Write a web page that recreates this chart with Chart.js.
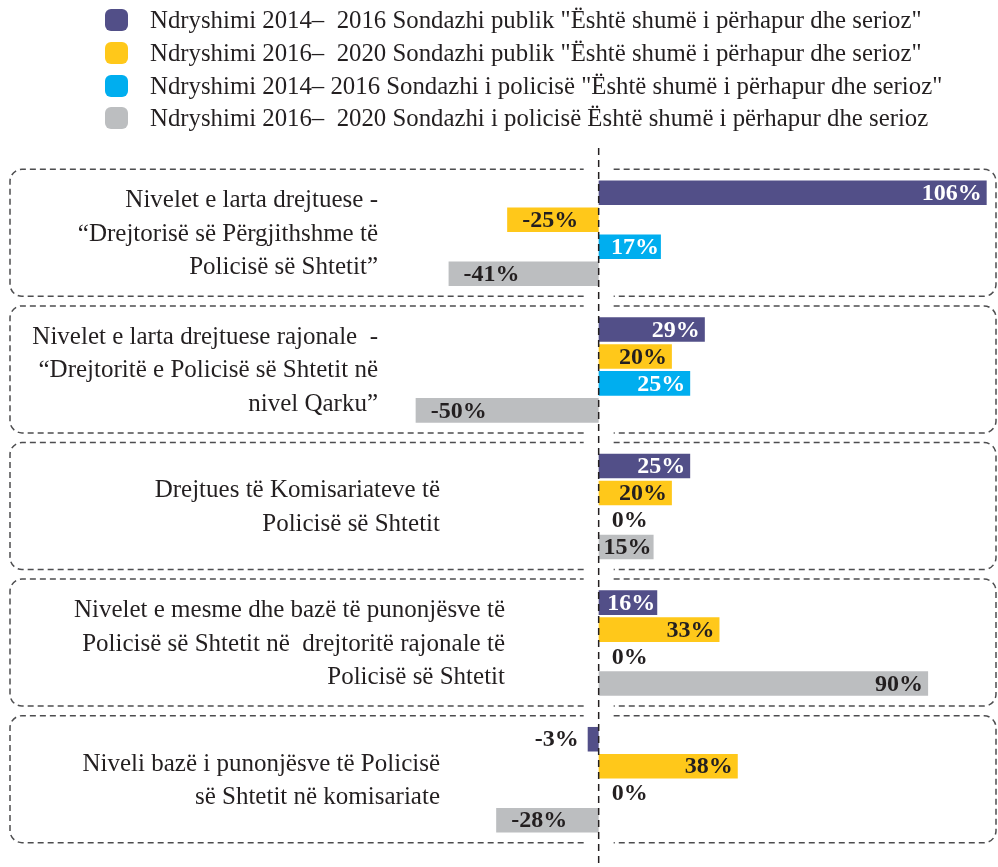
<!DOCTYPE html>
<html>
<head>
<meta charset="utf-8">
<script src="https://cdn.jsdelivr.net/npm/chart.js@4.4.1/dist/chart.umd.min.js"></script>
<style>
  html, body { margin: 0; padding: 0; background: #fff; }
  #wrap { width: 998px; height: 867px; }
</style>
</head>
<body>
<div id="wrap"><canvas id="my-chart" width="998" height="867"></canvas></div>
<script>
const categories = [
  ['Nivelet e larta drejtuese -', '“Drejtorisë së Përgjithshme të', 'Policisë së Shtetit”'],
  ['Nivelet e larta drejtuese rajonale  -', '“Drejtoritë e Policisë së Shtetit në', 'nivel Qarku”'],
  ['Drejtues të Komisariateve të', 'Policisë së Shtetit'],
  ['Nivelet e mesme dhe bazë të punonjësve të', 'Policisë së Shtetit në  drejtoritë rajonale të', 'Policisë së Shtetit'],
  ['Niveli bazë i punonjësve të Policisë', 'së Shtetit në komisariate']
];

const seriesNames = [
  'Ndryshimi 2014–  2016 Sondazhi publik "Është shumë i përhapur dhe serioz"',
  'Ndryshimi 2016–  2020 Sondazhi publik "Është shumë i përhapur dhe serioz"',
  'Ndryshimi 2014– 2016 Sondazhi i policisë "Është shumë i përhapur dhe serioz"',
  'Ndryshimi 2016–  2020 Sondazhi i policisë Është shumë i përhapur dhe serioz'
];

const publik1416 = [106, 29, 25, 16, -3];
const publik1620 = [-25, 20, 20, 33, 38];
const policia1416 = [17, 25, 0, 0, 0];
const policia1620 = [-41, -50, 15, 90, -28];

const seriesColors = ['#524f88', '#ffc81a', '#00aeef', '#bcbec0'];
const labelColors = ['#ffffff', '#231f20', '#ffffff', '#231f20'];
// right edge of the category text block, px
const labelRight = [378, 378, 440, 505, 440];

const SERIF = '"Liberation Serif", "DejaVu Serif", serif';
const INK = '#231f20';

function roundedHalf(ctx, z, left, right, top, bottom, r, gap, side) {
  ctx.beginPath();
  if (side === 'right') {
    ctx.moveTo(z + gap, top);
    ctx.arcTo(right, top, right, bottom, r);
    ctx.arcTo(right, bottom, z, bottom, r);
    ctx.lineTo(z + gap, bottom);
  } else {
    ctx.moveTo(z - gap, bottom);
    ctx.arcTo(left, bottom, left, top, r);
    ctx.arcTo(left, top, z, top, r);
    ctx.lineTo(z - gap, top);
  }
  ctx.stroke();
}

const groupDecor = {
  id: 'groupDecor',
  beforeDatasetsDraw(chart) {
    const ctx = chart.ctx;
    const y = chart.scales.y;
    const z = chart.scales.x.getPixelForValue(0);
    ctx.save();
    // dashed boxes round each group
    ctx.strokeStyle = '#4d4d4f';
    ctx.lineWidth = 1.5;
    ctx.setLineDash([6, 4]);
    categories.forEach((c, i) => {
      const yc = y.getPixelForValue(i);
      roundedHalf(ctx, z, 10, 996, yc - 64, yc + 63, 12, 15, 'left');
      roundedHalf(ctx, z, 10, 996, yc - 64, yc + 63, 12, 15, 'right');
    });
    ctx.setLineDash([]);
    // category text
    ctx.fillStyle = INK;
    ctx.font = '25px ' + SERIF;
    ctx.textAlign = 'right';
    ctx.textBaseline = 'middle';
    categories.forEach((lines, i) => {
      const yc = y.getPixelForValue(i) + 1;
      const lh = 33.5;
      const start = yc - (lines.length - 1) * lh / 2;
      lines.forEach((t, k) => ctx.fillText(t, labelRight[i], start + k * lh));
    });
    ctx.restore();
  },
  afterDatasetsDraw(chart) {
    const ctx = chart.ctx;
    const z = chart.scales.x.getPixelForValue(0);
    ctx.save();
    // zero line
    ctx.strokeStyle = INK;
    ctx.lineWidth = 1.5;
    ctx.setLineDash([7, 5]);
    ctx.beginPath();
    ctx.moveTo(z, 148);
    ctx.lineTo(z, chart.height);
    ctx.stroke();
    ctx.setLineDash([]);
    // value labels
    ctx.font = 'bold 24px ' + SERIF;
    ctx.textBaseline = 'middle';
    chart.data.datasets.forEach((ds, i) => {
      const meta = chart.getDatasetMeta(i);
      meta.data.forEach((bar, j) => {
        const v = ds.data[j];
        const txt = v + '%';
        const w = Math.abs(bar.x - bar.base);
        let x, align, color;
        if (v > 0) {
          x = bar.x - (w < 70 ? 2 : 5); align = 'right'; color = labelColors[i];
        } else if (v === 0) {
          x = bar.base + 13; align = 'left'; color = INK;
        } else if (w < 30) {
          x = bar.x - 9; align = 'right'; color = INK;
        } else {
          x = bar.x + 15; align = 'left'; color = labelColors[i];
        }
        ctx.textAlign = align;
        ctx.fillStyle = color;
        ctx.fillText(txt, x, bar.y + 1);
      });
    });
    ctx.restore();
  },
  afterDraw(chart) {
    // legend
    const ctx = chart.ctx;
    const rows = [20, 53, 86, 118];
    ctx.save();
    ctx.font = '24.8px ' + SERIF;
    ctx.textAlign = 'left';
    ctx.textBaseline = 'middle';
    chart.data.datasets.forEach((ds, i) => {
      ctx.fillStyle = ds.backgroundColor;
      ctx.beginPath();
      ctx.roundRect(105, rows[i] - 11, 23, 22, 6);
      ctx.fill();
      ctx.fillStyle = INK;
      ctx.fillText(ds.label, 150, rows[i] + 1);
    });
    ctx.restore();
  }
};

const series = [publik1416, publik1620, policia1416, policia1620];

const data = {
  labels: categories,
  datasets: series.map((vals, i) => ({
    label: seriesNames[i],
    data: vals,
    backgroundColor: seriesColors[i],
    borderWidth: 0,
    barPercentage: 0.91,
    categoryPercentage: 0.79
  }))
};

const config = {
  type: 'bar',
  data,
  options: {
    indexAxis: 'y',
    responsive: false,
    animation: false,
    layout: { padding: { left: 13, right: 4, top: 165, bottom: 19 } },
    scales: {
      x: { display: false, min: -160, max: 108 },
      y: { display: false }
    },
    plugins: {
      legend: { display: false },
      tooltip: { enabled: false }
    }
  },
  plugins: [groupDecor]
};

new Chart(document.getElementById('my-chart'), config);
</script>
</body>
</html>
